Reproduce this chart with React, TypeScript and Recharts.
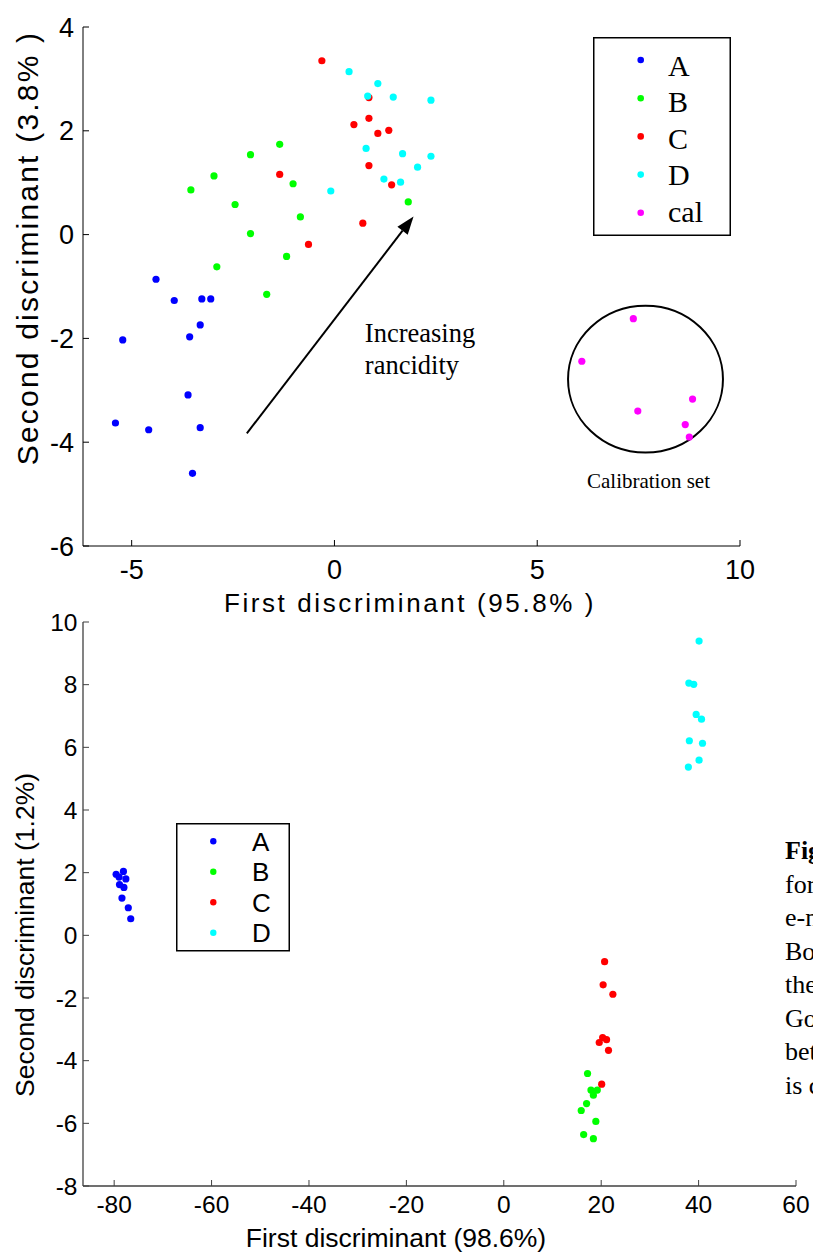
import React from "react";
import {
  ScatterChart,
  Scatter,
  XAxis,
  YAxis,
  Legend,
  Label,
  ReferenceLine,
  ReferenceArea,
  ReferenceDot,
} from "recharts";

const SANS = "'Liberation Sans', Arial, Helvetica, sans-serif";
const SERIF = "'Liberation Serif', 'Times New Roman', serif";

// upper plot: first vs second discriminant, classes A-D plus calibration set
const topA = [
  { x: -4.4, y: -0.86 }, { x: -3.95, y: -1.27 }, { x: -3.27, y: -1.24 },
  { x: -3.05, y: -1.24 }, { x: -3.31, y: -1.74 }, { x: -3.57, y: -1.97 },
  { x: -5.22, y: -2.03 }, { x: -3.61, y: -3.09 }, { x: -5.4, y: -3.63 },
  { x: -4.58, y: -3.76 }, { x: -3.31, y: -3.72 }, { x: -3.5, y: -4.6 },
];
const topB = [
  { x: -1.35, y: 1.74 }, { x: -2.07, y: 1.54 }, { x: -2.97, y: 1.13 },
  { x: -1.02, y: 0.98 }, { x: -3.54, y: 0.86 }, { x: -2.45, y: 0.58 },
  { x: -0.84, y: 0.34 }, { x: -2.07, y: 0.02 }, { x: -1.18, y: -0.42 },
  { x: -2.9, y: -0.62 }, { x: -1.67, y: -1.15 }, { x: 1.82, y: 0.63 },
];
const topC = [
  { x: -0.31, y: 3.35 }, { x: 0.85, y: 2.64 }, { x: 0.48, y: 2.12 },
  { x: 0.85, y: 2.24 }, { x: 1.07, y: 1.95 }, { x: 1.34, y: 2.01 },
  { x: 0.85, y: 1.33 }, { x: 1.41, y: 0.96 }, { x: 0.7, y: 0.22 },
  { x: -0.64, y: -0.19 }, { x: -1.35, y: 1.16 },
];
const topD = [
  { x: 0.36, y: 3.14 }, { x: 1.07, y: 2.91 }, { x: 0.82, y: 2.67 },
  { x: 1.45, y: 2.65 }, { x: 2.38, y: 2.59 }, { x: 0.78, y: 1.66 },
  { x: 1.68, y: 1.56 }, { x: 2.38, y: 1.51 }, { x: 2.05, y: 1.3 },
  { x: 1.22, y: 1.07 }, { x: 1.63, y: 1.01 }, { x: -0.09, y: 0.84 },
];
const topCal = [
  { x: 7.37, y: -1.62 }, { x: 6.1, y: -2.44 }, { x: 8.83, y: -3.17 },
  { x: 7.48, y: -3.4 }, { x: 8.65, y: -3.66 }, { x: 8.75, y: -3.9 },
];
const topXTicks = [-5, 0, 5, 10];
const topYTicks = [-6, -4, -2, 0, 2, 4];

// lower plot
const botA = [
  { x: -79.6, y: 1.95 }, { x: -78.1, y: 2.04 }, { x: -79.0, y: 1.86 },
  { x: -77.6, y: 1.8 }, { x: -78.9, y: 1.62 }, { x: -78.0, y: 1.53 },
  { x: -78.4, y: 1.19 }, { x: -77.1, y: 0.88 }, { x: -76.6, y: 0.53 },
];
const botB = [
  { x: 17.2, y: -4.41 }, { x: 17.9, y: -4.94 }, { x: 19.2, y: -4.94 },
  { x: 18.4, y: -5.1 }, { x: 17.0, y: -5.37 }, { x: 15.9, y: -5.59 },
  { x: 18.9, y: -5.94 }, { x: 16.4, y: -6.36 }, { x: 18.4, y: -6.49 },
];
const botC = [
  { x: 20.7, y: -0.84 }, { x: 20.4, y: -1.58 }, { x: 22.4, y: -1.88 },
  { x: 20.3, y: -3.26 }, { x: 21.1, y: -3.33 }, { x: 19.6, y: -3.42 },
  { x: 21.5, y: -3.67 }, { x: 20.1, y: -4.75 },
];
const botD = [
  { x: 40.1, y: 9.39 }, { x: 38.0, y: 8.05 }, { x: 39.0, y: 8.01 },
  { x: 39.5, y: 7.05 }, { x: 40.6, y: 6.9 }, { x: 38.1, y: 6.21 },
  { x: 40.8, y: 6.13 }, { x: 40.1, y: 5.59 }, { x: 37.9, y: 5.37 },
];
const botXTicks = [-80, -60, -40, -20, 0, 20, 40, 60];
const botYTicks = [-8, -6, -4, -2, 0, 2, 4, 6, 8, 10];

const COLORS: Record<string, string> = {
  A: "#0000ff",
  B: "#00ff00",
  C: "#ff0000",
  D: "#00ffff",
  cal: "#ff00ff",
};

// cut-off caption lines at the right edge of the page
const captionLines = ["Fig", "for", "e-n", "Bo", "the", "Go", "bet", "is c"];

const dot = (props: any) => (
  <circle cx={props.cx} cy={props.cy} r={3.6} fill={props.fill} />
);

const Arrow = (props: any) => {
  const { x1, y1, x2, y2 } = props;
  const ang = Math.atan2(y2 - y1, x2 - x1);
  const len = 18;
  const hw = 6.5;
  const bx = x2 - len * Math.cos(ang);
  const by = y2 - len * Math.sin(ang);
  const px = -Math.sin(ang) * hw;
  const py = Math.cos(ang) * hw;
  return (
    <g>
      <line x1={x1} y1={y1} x2={bx} y2={by} stroke="#000" strokeWidth={2} />
      <polygon
        points={`${x2},${y2} ${bx + px},${by + py} ${bx - px},${by - py}`}
        fill="#000"
      />
    </g>
  );
};

const CalCircle = (props: any) => {
  const { x, y, width, height } = props;
  return (
    <g>
      <ellipse
        cx={x + width / 2}
        cy={y + height / 2}
        rx={width / 2}
        ry={height / 2}
        fill="none"
        stroke="#000"
        strokeWidth={2}
      />
      <text
        x={x + width / 2 + 3}
        y={y + height + 35}
        textAnchor="middle"
        fontFamily={SERIF}
        fontSize={21}
        fill="#000"
      >
        Calibration set
      </text>
    </g>
  );
};

const RancidityText = (props: any) => (
  <text x={props.cx} y={props.cy} fontFamily={SERIF} fontSize={26.5} fill="#000">
    <tspan x={props.cx}>Increasing</tspan>
    <tspan x={props.cx} dy={32}>rancidity</tspan>
  </text>
);

function TopLegend(props: any) {
  const items = (props.payload || []).map((p: any) => p.value);
  return (
    <svg width={138} height={199} style={{ display: "block" }}>
      <rect x={0.75} y={0.75} width={136.5} height={197.5} fill="#fff" stroke="#000" strokeWidth={1.5} />
      {items.map((name: string, i: number) => (
        <g key={name}>
          <circle cx={47.7} cy={23 + i * 38.2} r={3.3} fill={COLORS[name]} />
          <text x={75} y={39 + i * 36.4} fontFamily={SERIF} fontSize={30} fill="#000">
            {name}
          </text>
        </g>
      ))}
    </svg>
  );
}

function BottomLegend(props: any) {
  const items = (props.payload || []).map((p: any) => p.value);
  return (
    <svg width={114} height={129} style={{ display: "block" }}>
      <rect x={0.75} y={0.75} width={112.5} height={127} fill="#fff" stroke="#000" strokeWidth={1.5} />
      {items.map((name: string, i: number) => (
        <g key={name}>
          <circle cx={37.3} cy={18.3 + i * 30.5} r={3.2} fill={COLORS[name]} />
          <text x={76} y={27.7 + i * 30.5} fontFamily={SANS} fontSize={26} fill="#000">
            {name}
          </text>
        </g>
      ))}
    </svg>
  );
}

function TopChart() {
  return (
    <ScatterChart
      width={813}
      height={625}
      margin={{ top: 27, right: 73, left: 0, bottom: 29 }}
    >
      <XAxis
        type="number"
        dataKey="x"
        domain={[-6.2, 10]}
        ticks={topXTicks}
        interval={0}
        height={50}
        tickSize={-6}
        tickMargin={20}
        axisLine={{ stroke: "#000", strokeWidth: 1 }}
        tickLine={{ stroke: "#000" }}
        tick={{ fill: "#000", fontSize: 27, fontFamily: SANS }}
      >
        <Label
          content={() => (
            <text
              x={410}
              y={611.7}
              textAnchor="middle"
              fontFamily={SANS}
              fontSize={26}
              fill="#000"
              style={{ letterSpacing: 2.6 }}
            >
              First discriminant (95.8% )
            </text>
          )}
        />
      </XAxis>
      <YAxis
        type="number"
        dataKey="y"
        domain={[-6, 4]}
        ticks={topYTicks}
        interval={0}
        width={83}
        tickSize={-6}
        tickMargin={15}
        axisLine={{ stroke: "#000", strokeWidth: 1 }}
        tickLine={{ stroke: "#000" }}
        tick={{ fill: "#000", fontSize: 27, fontFamily: SANS }}
      >
        <Label
          content={() => (
            <text
              x={38}
              y={248}
              transform="rotate(-90 38 248)"
              textAnchor="middle"
              fontFamily={SANS}
              fontSize={30}
              fill="#000"
              style={{ letterSpacing: 2.2 }}
            >
              Second discriminant (3.8% )
            </text>
          )}
        />
      </YAxis>
      <ReferenceArea x1={5.76} x2={9.58} y1={-4.2} y2={-1.37} shape={CalCircle} />
      <ReferenceLine
        segment={[
          { x: -2.16, y: -3.83 },
          { x: 1.95, y: 0.35 },
        ]}
        shape={Arrow}
      />
      <ReferenceDot x={0.75} y={-2.07} shape={RancidityText} />
      <Legend
        layout="vertical"
        align="center"
        verticalAlign="middle"
        width={138}
        height={199}
        wrapperStyle={{ left: 593, top: 37, width: 138, height: 199 }}
        content={TopLegend}
      />
      <Scatter name="A" data={topA} fill={COLORS.A} shape={dot} isAnimationActive={false} />
      <Scatter name="B" data={topB} fill={COLORS.B} shape={dot} isAnimationActive={false} />
      <Scatter name="C" data={topC} fill={COLORS.C} shape={dot} isAnimationActive={false} />
      <Scatter name="D" data={topD} fill={COLORS.D} shape={dot} isAnimationActive={false} />
      <Scatter name="cal" data={topCal} fill={COLORS.cal} shape={dot} isAnimationActive={false} />
    </ScatterChart>
  );
}

function BottomChart() {
  const axisCol = "#404040";
  return (
    <ScatterChart
      width={813}
      height={654}
      margin={{ top: 22, right: 17, left: 0, bottom: 8 }}
    >
      <XAxis
        type="number"
        dataKey="x"
        domain={[-86.4, 60]}
        ticks={botXTicks}
        interval={0}
        height={60}
        tickSize={-6}
        tickMargin={16}
        axisLine={{ stroke: axisCol, strokeWidth: 1.3 }}
        tickLine={{ stroke: axisCol }}
        tick={{ fill: "#000", fontSize: 24.5, fontFamily: SANS }}
      >
        <Label
          content={() => (
            <text x={396} y={647} textAnchor="middle" fontFamily={SANS} fontSize={26.5} fill="#000">
              First discriminant (98.6%)
            </text>
          )}
        />
      </XAxis>
      <YAxis
        type="number"
        dataKey="y"
        domain={[-8, 10]}
        ticks={botYTicks}
        interval={0}
        width={83}
        tickSize={-6}
        tickMargin={11.5}
        axisLine={{ stroke: axisCol, strokeWidth: 1.3 }}
        tickLine={{ stroke: axisCol }}
        tick={{ fill: "#000", fontSize: 24.5, fontFamily: SANS }}
      >
        <Label
          content={() => (
            <text
              x={33.5}
              y={335}
              transform="rotate(-90 33.5 335)"
              textAnchor="middle"
              fontFamily={SANS}
              fontSize={26.5}
              fill="#000"
            >
              Second discriminant (1.2%)
            </text>
          )}
        />
      </YAxis>
      <Legend
        layout="vertical"
        align="center"
        verticalAlign="middle"
        width={114}
        height={129}
        wrapperStyle={{ left: 176, top: 223, width: 114, height: 129 }}
        content={BottomLegend}
      />
      <Scatter name="A" data={botA} fill={COLORS.A} shape={dot} isAnimationActive={false} />
      <Scatter name="B" data={botB} fill={COLORS.B} shape={dot} isAnimationActive={false} />
      <Scatter name="C" data={botC} fill={COLORS.C} shape={dot} isAnimationActive={false} />
      <Scatter name="D" data={botD} fill={COLORS.D} shape={dot} isAnimationActive={false} />
    </ScatterChart>
  );
}

export default function App() {
  return (
    <div
      style={{
        position: "absolute",
        left: 0,
        top: 0,
        width: 813,
        height: 1254,
        overflow: "hidden",
        background: "#fff",
      }}
    >
      <div style={{ position: "absolute", left: 0, top: 600 }}>
        <BottomChart />
      </div>
      <div style={{ position: "absolute", left: 0, top: 0 }}>
        <TopChart />
      </div>
      <svg
        width={53}
        height={300}
        style={{ position: "absolute", left: 760, top: 820 }}
      >
        {captionLines.map((t, i) => (
          <text
            key={t}
            x={25}
            y={39 + i * 33.5}
            fontFamily={SERIF}
            fontSize={26}
            fontWeight={i === 0 ? "bold" : "normal"}
            fill="#000"
          >
            {t}
          </text>
        ))}
      </svg>
    </div>
  );
}
